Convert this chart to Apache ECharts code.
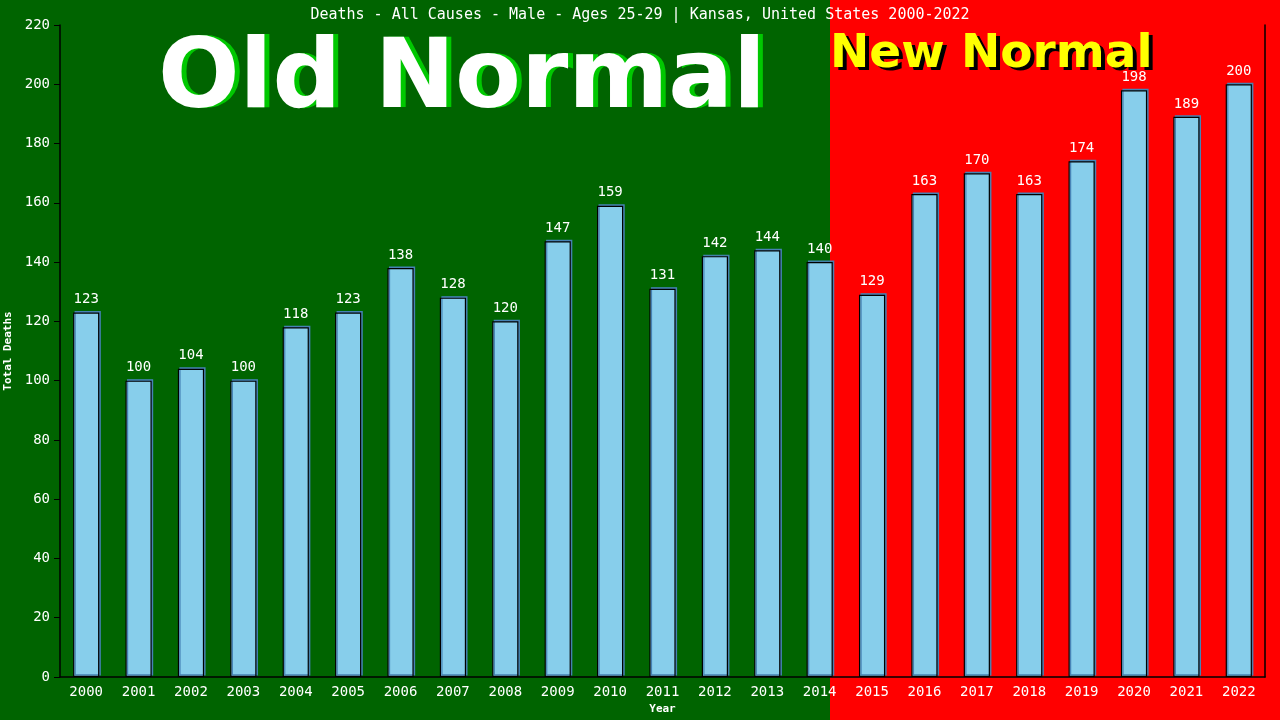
<!DOCTYPE html>
<html>
<head>
    <meta charset="utf-8" />
    <style>
        html, body { margin: 0; padding: 0; height: 100%; background: #000; }
        #deathChart { width: 1280px; height: 720px; }
    </style>
    <script src="https://cdn.jsdelivr.net/npm/echarts@6/dist/echarts.min.js"></script>
</head>
<body>
    <div id="deathChart"></div>
    <script type="text/javascript">
        // chart data
        var years = ['2000', '2001', '2002', '2003', '2004', '2005', '2006', '2007', '2008', '2009', '2010', '2011',
            '2012', '2013', '2014', '2015', '2016', '2017', '2018', '2019', '2020', '2021', '2022'];
        var deaths = [123, 100, 104, 100, 118, 123, 138, 128, 120, 147, 159, 131,
            142, 144, 140, 129, 163, 170, 163, 174, 198, 189, 200];
        var chartTitle = 'Deaths - All Causes - Male - Ages 25-29 | Kansas, United States 2000-2022';
        var yTicks = { min: 0, max: 220, step: 20 };

        var monoFont = '"DejaVu Sans Mono", monospace';
        var bigFont = '"DejaVu Sans", Verdana, sans-serif';

        var myChart = echarts.init(document.getElementById('deathChart'));

        var options = {
            backgroundColor: '#ff0000',
            animation: false,
            title: {
                text: chartTitle,
                left: 'center',
                top: 3,
                textStyle: { color: '#fff', fontFamily: monoFont, fontSize: 15, fontWeight: 'normal' }
            },
            graphic: [
                // old normal background (green part)
                { type: 'rect', z: -10, shape: { x: 0, y: 0, width: 830, height: 720 }, style: { fill: '#006400' } },
                // Old Normal text + shadow
                { type: 'text', z: -5, x: 467, y: 130,
                  style: { text: 'Old Normal', font: 'bold 96px ' + bigFont, fill: '#00c800', align: 'center', verticalAlign: 'bottom' } },
                { type: 'text', z: -4, x: 462, y: 130,
                  style: { text: 'Old Normal', font: 'bold 96px ' + bigFont, fill: '#ffffff', align: 'center', verticalAlign: 'bottom' } },
                // New Normal text + shadow
                { type: 'text', z: -5, x: 834, y: 81,
                  style: { text: 'New Normal', font: 'bold 47px ' + bigFont, fill: '#000000', align: 'left', verticalAlign: 'bottom' } },
                { type: 'text', z: -4, x: 830, y: 78,
                  style: { text: 'New Normal', font: 'bold 47px ' + bigFont, fill: '#ffff00', align: 'left', verticalAlign: 'bottom' } }
            ],
            grid: { left: 60, right: 15, top: 25, bottom: 43, containLabel: false, outerBoundsMode: 'none' },
            xAxis: {
                type: 'category',
                data: years,
                name: 'Year',
                nameLocation: 'middle',
                nameGap: 27,
                nameTextStyle: { color: '#fff', fontFamily: monoFont, fontSize: 11, fontWeight: 'bold' },
                axisLine: { lineStyle: { color: '#000', width: 1.5 } },
                axisTick: { show: false },
                axisLabel: { color: '#fff', fontFamily: monoFont, fontSize: 14, margin: 8, interval: 0 }
            },
            yAxis: [
                {
                    type: 'value',
                    min: yTicks.min,
                    max: yTicks.max,
                    interval: yTicks.step,
                    name: 'Total Deaths',
                    nameLocation: 'middle',
                    nameGap: 42,
                    nameTextStyle: { color: '#fff', fontFamily: monoFont, fontSize: 11, fontWeight: 'bold' },
                    axisLine: { show: true, lineStyle: { color: '#000', width: 1.5 } },
                    axisTick: { show: true, length: 6, lineStyle: { color: '#000' } },
                    axisLabel: { color: '#fff', fontFamily: monoFont, fontSize: 14, margin: 10 },
                    splitLine: { show: false }
                },
                {
                    // right border line only
                    type: 'value',
                    position: 'right',
                    min: yTicks.min,
                    max: yTicks.max,
                    interval: yTicks.step,
                    axisLine: { show: true, lineStyle: { color: '#000', width: 1.5 } },
                    axisTick: { show: false },
                    axisLabel: { show: false },
                    splitLine: { show: false }
                }
            ],
            series: [{
                name: 'Total Deaths',
                type: 'bar',
                data: deaths,
                barCategoryGap: '50%',
                itemStyle: {
                    color: '#87ceeb',
                    borderColor: '#000',
                    borderWidth: 1.2,
                    shadowColor: '#4682b4',
                    shadowBlur: 0,
                    shadowOffsetX: 1.5,
                    shadowOffsetY: -1.5
                },
                label: {
                    show: true,
                    position: 'top',
                    distance: 6,
                    color: '#fff',
                    fontFamily: monoFont,
                    fontSize: 14
                }
            }]
        };

        myChart.setOption(options);
    </script>
</body>
</html>
